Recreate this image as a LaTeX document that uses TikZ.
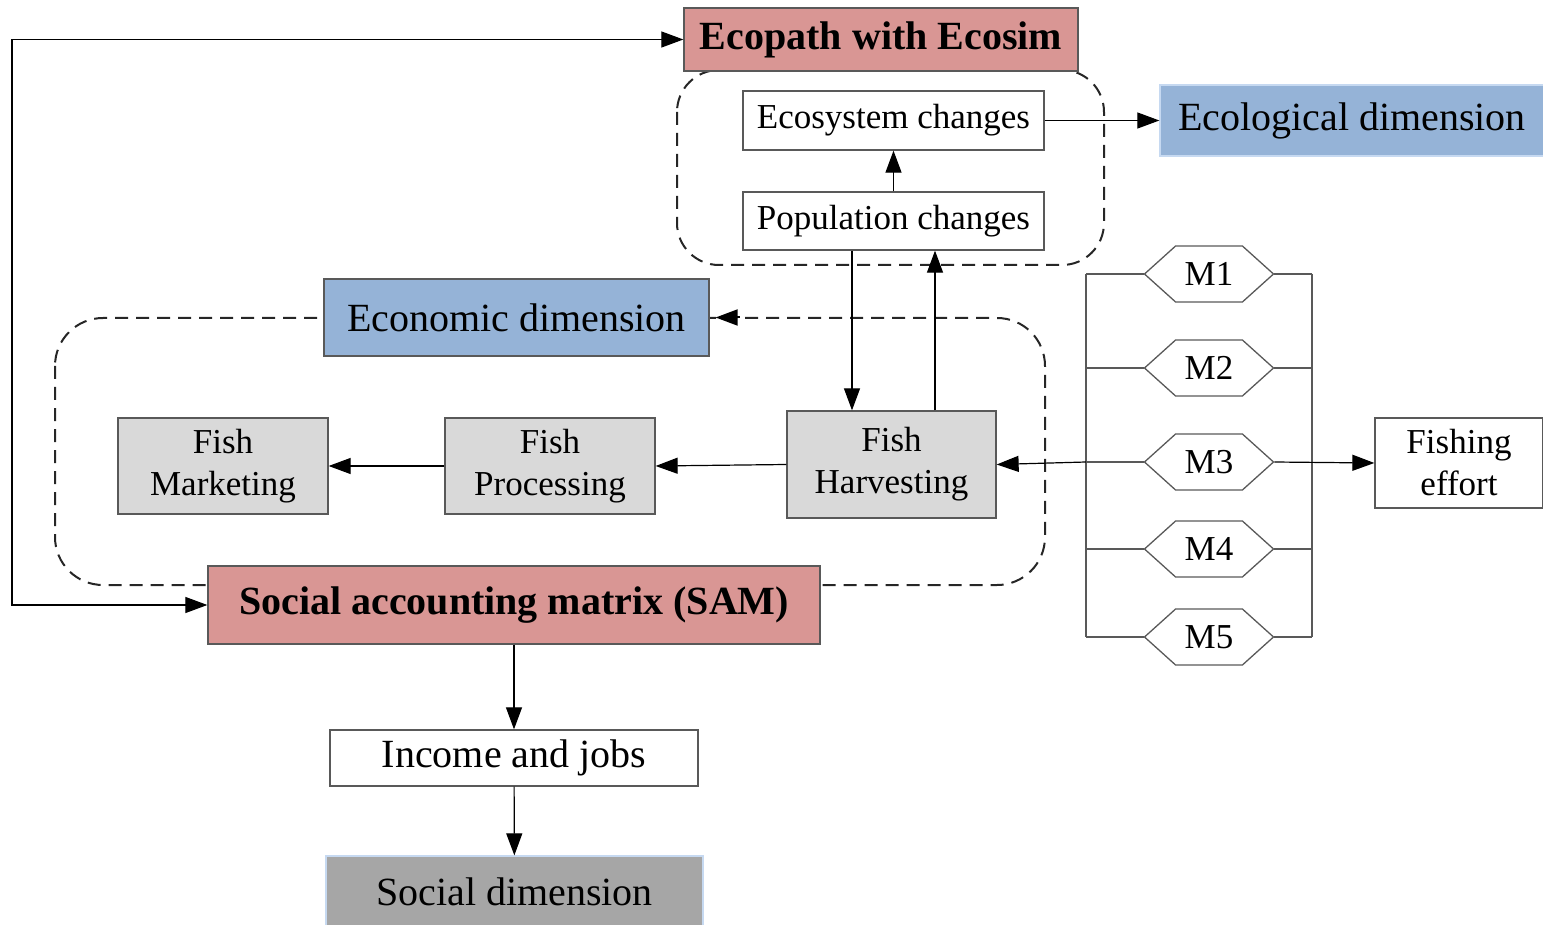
\documentclass[tikz,border=0pt]{standalone}
\usepackage{fontspec}
\setmainfont{Liberation Serif}
\usetikzlibrary{arrows.meta,shapes.symbols}
\definecolor{pinkbox}{HTML}{D99694}
\definecolor{bluebox}{HTML}{95B3D7}
\definecolor{greybox}{HTML}{D9D9D9}
\definecolor{darkgreybox}{HTML}{A6A6A6}
\definecolor{edge}{HTML}{595959}
\definecolor{lightedge}{HTML}{C6D9F1}
\begin{document}
\begin{tikzpicture}[x=1pt,y=-1pt,
  box/.style={draw=edge, line width=1.3pt, inner sep=0pt, align=center,
    font=\fontsize{35}{42}\selectfont},
  bigbox/.style={box, font=\fontsize{40}{46}\selectfont},
  titlebox/.style={box, fill=pinkbox, font=\fontsize{40}{46}\selectfont\bfseries},
  dimbox/.style={bigbox, fill=bluebox},
  fishbox/.style={box, fill=greybox},
  mbox/.style={draw=edge, line width=1.3pt, shape=signal, signal to=east and west,
    signal pointer angle=84, minimum width=129pt, minimum height=56pt, inner sep=0pt,
    font=\fontsize{35}{42}\selectfont},
  tip/.tip={Triangle[length=22pt,width=16pt]},
  arr/.style={-tip, line width=1.2pt, draw=black},
  link/.style={line width=1.2pt, draw=edge},
  dashframe/.style={draw=black!85, line width=2pt, dash pattern=on 13pt off 8pt}]
\useasboundingbox (0,0) rectangle (1543,925);

% dashed frames around the two model blocks
\draw[dashframe, rounded corners=42pt] (677,70) rectangle (1104,265);
\draw[dashframe, rounded corners=48pt] (55,318) rectangle (1045,585);

% ecological model
\node[titlebox, minimum width=394pt, minimum height=63pt] (eco) at (881,39.5) {Ecopath with Ecosim};
\node[box, fill=white, minimum width=301pt, minimum height=59pt] (esc) at (893.5,120.5) {Ecosystem changes};
\node[box, fill=white, minimum width=301pt, minimum height=58pt] (popc) at (893.5,221) {Population changes};
\node[dimbox, draw=lightedge, minimum width=384pt, minimum height=71pt] (ecol) at (1352,120.5) {Ecological dimension};

% economic model
\node[dimbox, minimum width=385pt, minimum height=77pt] (econ) at (516.5,317.5) {Economic dimension};
\node[fishbox, minimum width=209pt, minimum height=107pt] (harv) at (891.5,464.5) {Fish\\Harvesting};
\node[fishbox, minimum width=210pt, minimum height=96pt] (proc) at (550,466) {Fish\\Processing};
\node[fishbox, minimum width=210pt, minimum height=96pt] (mark) at (223,466) {Fish\\Marketing};
\node[titlebox, minimum width=612pt, minimum height=78pt] (sam) at (514,605) {Social accounting matrix (SAM)};

% social side
\node[bigbox, fill=white, minimum width=368pt, minimum height=56pt] (inc) at (514,758) {Income and jobs};
\node[bigbox, fill=darkgreybox, draw=lightedge, minimum width=377pt, minimum height=71pt] (soc) at (514.5,891.5) {Social dimension};

% management options and fishing effort
\node[mbox] (m1) at (1209,274) {M1};
\node[mbox] (m2) at (1209,368) {M2};
\node[mbox] (m3) at (1209,462) {M3};
\node[mbox] (m4) at (1209,549) {M4};
\node[mbox] (m5) at (1209,637) {M5};
\node[box, fill=white, minimum width=168pt, minimum height=90pt] (fe) at (1459,463) {Fishing\\effort};
\coordinate (lbar) at (1086,0);
\coordinate (rbar) at (1312,0);
\coordinate (loop) at (12,0);

% connectors
\draw[arr] (popc) -- (esc);
\draw[arr] (esc) -- (ecol);
\draw[arr] ([xshift=-41.5pt]popc.south) -- ([xshift=-41.5pt]popc.south |- harv.north);
\draw[arr] ([xshift=43.5pt]harv.north) -- ([xshift=43.5pt]harv.north |- popc.south);
\draw[arr] (harv.west) -- (proc.east);
\draw[arr] (proc.west) -- (mark.east);
% the dashed frame's top edge ends in a solid tip at the economic box
\draw[arr, line width=2pt, shorten >=6pt] ([xshift=30pt]econ.east) -- (econ.east);
\draw[arr, tip-tip]
  (eco.west) -- (eco.west -| loop) -- (sam.west -| loop) -- (sam.west);
\draw[arr] (sam) -- (inc);
\draw[arr] (inc) -- (soc);

% branches of the management options
\draw[link] (m1.west -| lbar) -- (m5.west -| lbar);
\draw[link] (m1.east -| rbar) -- (m5.east -| rbar);
\foreach \m in {m1,m2,m4,m5}{
  \draw[link] (\m.west) -- (\m.west -| lbar);
  \draw[link] (\m.east) -- (\m.east -| rbar);
}
\draw[link] (m3.west) -- (m3.west -| lbar);
\draw[arr] (m3.west -| lbar) -- (harv.east);
\draw[arr] (m3.east) -- (fe.west);
\end{tikzpicture}
\end{document}
